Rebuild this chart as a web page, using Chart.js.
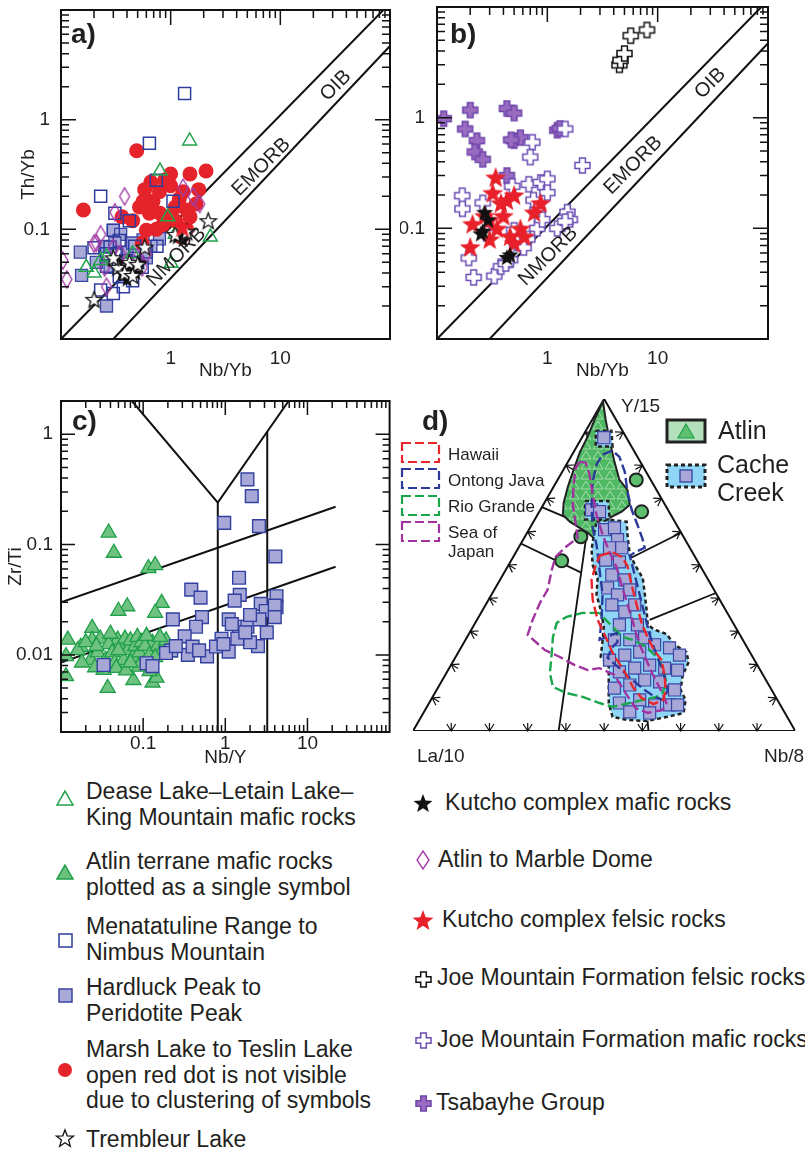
<!DOCTYPE html>
<html lang="en">
<head>
<meta charset="utf-8">
<title>Th/Yb, Zr/Ti and La/10-Y/15-Nb/8 diagrams</title>
<script src="https://cdn.jsdelivr.net/npm/chart.js@4.4.1/dist/chart.umd.min.js"></script>
<style>
  html, body { margin: 0; padding: 0; background: #fff; }
  body { position: relative; width: 805px; height: 1154px; overflow: hidden;
         font-family: "Liberation Sans", Arial, sans-serif; color: #231f20; }
  canvas { position: absolute; }
  .key { position: absolute; font-size: 23px; line-height: 25.5px; white-space: nowrap; }
</style>
</head>
<body>
<canvas id="chartA" width="400" height="380" style="left:0;top:0"></canvas>
<canvas id="chartB" width="405" height="380" style="left:400px;top:0"></canvas>
<canvas id="chartC" width="400" height="390" style="left:0;top:380px"></canvas>
<canvas id="chartD" width="405" height="390" style="left:400px;top:380px"></canvas>
<script>
// ---------- panel a: Th/Yb vs Nb/Yb ----------
const deaseNbYb = [1.49, 0.80, 0.94, 2.30, 1.01, 0.23, 0.20, 0.26, 0.17, 1.10, 0.45];
const deaseThYb = [0.64, 0.34, 0.13, 0.085, 0.049, 0.052, 0.040, 0.056, 0.045, 0.090, 0.060];
const menaNbYb = [1.34, 0.64, 0.23, 0.74, 1.05, 0.42, 0.31, 0.30, 0.34, 0.28, 0.32, 0.39, 0.26, 0.34, 0.45, 0.37, 0.23, 0.30, 0.50, 0.60, 0.75, 0.47, 0.55, 0.26, 0.20];
const menaThYb = [1.73, 0.61, 0.20, 0.28, 0.18, 0.12, 0.14, 0.098, 0.079, 0.069, 0.060, 0.052, 0.046, 0.037, 0.034, 0.030, 0.028, 0.026, 0.050, 0.062, 0.070, 0.070, 0.045, 0.060, 0.068];
const hardNbYb = [0.15, 0.154, 0.26, 0.30, 0.21, 0.79, 0.56, 0.35, 0.40, 0.25, 0.66, 0.45, 0.31, 0.28, 0.60, 0.38];
const hardThYb = [0.062, 0.038, 0.020, 0.098, 0.050, 0.082, 0.080, 0.090, 0.062, 0.070, 0.070, 0.075, 0.075, 0.045, 0.055, 0.045];
const marshNbYb = [0.49, 0.16, 2.10, 1.50, 1.00, 1.80, 0.58, 0.56, 0.69, 0.79, 1.00, 1.20, 1.40, 0.96, 0.64, 0.52, 0.36, 0.74, 1.10, 1.50, 1.70, 1.10, 0.80, 0.60, 1.40, 1.30, 0.88, 0.66, 0.45, 0.85, 1.25, 0.55];
const marshThYb = [0.52, 0.15, 0.34, 0.32, 0.32, 0.23, 0.23, 0.18, 0.18, 0.22, 0.25, 0.19, 0.15, 0.13, 0.14, 0.16, 0.13, 0.10, 0.12, 0.13, 0.17, 0.16, 0.14, 0.098, 0.10, 0.22, 0.28, 0.27, 0.12, 0.11, 0.085, 0.075];
const marbleNbYb = [1.84, 1.30, 0.38, 0.31, 0.104, 0.113, 0.21, 0.26, 0.23, 0.20, 1.60, 0.40, 0.50, 0.45, 0.60, 0.35, 0.55, 0.30, 0.25];
const marbleThYb = [0.17, 0.24, 0.20, 0.143, 0.052, 0.035, 0.075, 0.030, 0.090, 0.074, 0.20, 0.050, 0.055, 0.045, 0.060, 0.060, 0.045, 0.068, 0.045];
const trembNbYb = [0.20, 2.20, 0.58, 0.33, 0.42, 0.38, 0.50, 0.30, 0.45, 1.10, 1.40];
const trembThYb = [0.023, 0.12, 0.069, 0.045, 0.050, 0.040, 0.048, 0.055, 0.038, 0.090, 0.095];
const kutMafANbYb = [0.36, 0.42, 0.48, 0.40, 1.15, 1.30, 1.25, 0.34, 0.52];
const kutMafAThYb = [0.040, 0.044, 0.040, 0.035, 0.085, 0.080, 0.092, 0.050, 0.050];
const kutFelANbYb = [1.28];
const kutFelAThYb = [0.105];

// ---------- panel b: Th/Yb vs Nb/Yb ----------
const joeFelNbYb = [4.5, 4.6, 5.0, 5.7, 8.0];
const joeFelThYb = [3.0, 3.3, 3.8, 5.5, 6.2];
const tsabNbYb = [0.115, 0.20, 0.18, 0.23, 0.22, 0.26, 0.43, 0.50, 0.50, 0.57, 1.23, 0.43, 0.47, 1.30];
const tsabThYb = [0.98, 1.17, 0.79, 0.62, 0.49, 0.42, 1.21, 1.10, 0.62, 0.66, 0.77, 0.30, 0.63, 0.80];
const joeMafNbYb = [2.08, 0.73, 0.70, 1.45, 0.169, 0.17, 0.194, 0.215, 0.33, 0.38, 0.46, 0.68, 0.87, 1.00, 1.00, 0.75, 0.81, 0.81, 1.23, 1.52, 1.60, 0.66, 0.50, 0.48, 0.26, 0.28, 0.53, 0.61, 0.42, 1.45, 0.90];
const joeMafThYb = [0.37, 0.60, 0.44, 0.79, 0.197, 0.15, 0.054, 0.036, 0.037, 0.045, 0.052, 0.25, 0.26, 0.28, 0.21, 0.18, 0.144, 0.10, 0.10, 0.14, 0.12, 0.08, 0.096, 0.24, 0.17, 0.09, 0.074, 0.067, 0.048, 0.115, 0.12];
const kutFelNbYb = [0.34, 0.32, 0.43, 0.50, 0.38, 0.87, 0.76, 0.40, 0.21, 0.20, 0.30, 0.35, 0.46, 0.50, 0.57, 0.27, 0.30, 0.62];
const kutFelThYb = [0.29, 0.21, 0.18, 0.20, 0.17, 0.17, 0.14, 0.13, 0.11, 0.068, 0.08, 0.10, 0.085, 0.074, 0.10, 0.13, 0.12, 0.085];
const kutMafNbYb = [0.27, 0.29, 0.26, 0.25, 0.46, 0.43];
const kutMafThYb = [0.14, 0.12, 0.095, 0.09, 0.058, 0.055];

// MORB–OIB array boundaries (a and b)
const arrayUpperNb = [0.1, 87];
const arrayUpperTh = [0.01, 10];
const arrayLowerNb = [0.3, 100];
const arrayLowerTh = [0.01, 4.7];

// ---------- panel c: Zr/Ti vs Nb/Y ----------
const atlinNbY = [0.038, 0.044, 0.116, 0.14, 0.064, 0.05, 0.168, 0.14, 0.024, 0.0115, 0.0115, 0.037, 0.076, 0.13, 0.145,
  0.0121, 0.0174, 0.024, 0.049, 0.13, 0.023, 0.033, 0.016, 0.02, 0.028, 0.03, 0.035, 0.038, 0.042, 0.045,
  0.055, 0.058, 0.06, 0.065, 0.07, 0.075, 0.08, 0.085, 0.09, 0.095, 0.10, 0.105, 0.11, 0.12, 0.15,
  0.17, 0.19, 0.21, 0.018, 0.026, 0.047, 0.062, 0.088, 0.12, 0.05, 0.07, 0.14, 0.027, 0.16, 0.04];
const atlinZrTi = [0.128, 0.084, 0.061, 0.065, 0.0275, 0.025, 0.0295, 0.024, 0.0175, 0.0097, 0.0064, 0.0050, 0.0059, 0.0056, 0.0062,
  0.0137, 0.0118, 0.0137, 0.0137, 0.0128, 0.0090, 0.0073, 0.011, 0.013, 0.0105, 0.014, 0.009, 0.0125, 0.0105, 0.0085,
  0.012, 0.009, 0.014, 0.011, 0.0135, 0.0095, 0.012, 0.0145, 0.0105, 0.013, 0.0082, 0.012, 0.0148, 0.0100, 0.012,
  0.011, 0.0135, 0.0105, 0.0085, 0.0077, 0.0076, 0.0072, 0.0078, 0.0071, 0.011, 0.0085, 0.0095, 0.012, 0.0145, 0.0155];
const cacheNbY = [1.86, 2.1, 0.97, 2.57, 4.07, 1.47, 0.385, 0.50, 1.5, 1.3, 0.52, 0.23, 0.44, 1.1, 1.47, 1.86, 2.7, 4.2, 4.2, 3.1,
  3.2, 2.5, 2.0, 1.4, 0.9, 1.1, 0.6, 0.35, 0.32, 0.22, 0.11, 0.13, 0.033, 0.19, 0.40, 0.48, 0.77, 1.75, 4.0, 4.0,
  2.6, 2.0, 0.95, 1.2, 0.25];
const cacheZrTi = [0.39, 0.275, 0.157, 0.147, 0.078, 0.050, 0.039, 0.033, 0.035, 0.031, 0.022, 0.021, 0.018, 0.021, 0.018, 0.018, 0.029, 0.034, 0.027, 0.025,
  0.016, 0.012, 0.013, 0.014, 0.014, 0.0107, 0.0097, 0.010, 0.0147, 0.011, 0.0084, 0.0079, 0.0081, 0.0104, 0.0119, 0.011, 0.0119, 0.016, 0.028, 0.022,
  0.021, 0.023, 0.0125, 0.019, 0.012];
// field boundaries (Nb/Y, Zr/Ti)
const cUpperNbY = [0.01, 22];
const cUpperZrTi = [0.03, 0.22];
const cLowerNbY = [0.01, 22];
const cLowerZrTi = [0.0085, 0.063];
const cVeeNbY = [0.073, 0.81, 5.9];
const cVeeZrTi = [2, 0.24, 2];
const cLeftNbY = [0.81, 0.81];
const cLeftZrTi = [0.24, 0.002];
const cRightNbY = [3.24, 3.24];
const cRightZrTi = [1.05, 0.002];

// ---------- panel d: La/10 – Y/15 – Nb/8 (triangle plane, side = 1) ----------
const triCorners = [[0, 0], [1, 0], [0.5, 0.866]];
const edgeTicks = [0.1, 0.2, 0.3, 0.4, 0.5, 0.6, 0.7, 0.8, 0.9];
const dLines = [
  [[0.381, 0], [0.457, 0.533]],
  [[0.337, 0.584], [0.457, 0.533]],
  [[0.282, 0.489], [0.440, 0.413]],
  [[0.559, 0.446], [0.701, 0.517]],
  [[0.619, 0.290], [0.792, 0.360]],
  [[0.616, 0], [0.605, 0.12]]
];
const atlinField = [[0.497, 0.860], [0.475, 0.812], [0.457, 0.768], [0.436, 0.726], [0.420, 0.681], [0.405, 0.637], [0.394, 0.595],
  [0.392, 0.564], [0.410, 0.546], [0.436, 0.530], [0.457, 0.517], [0.478, 0.499], [0.493, 0.525], [0.514, 0.556], [0.546, 0.572],
  [0.567, 0.590], [0.561, 0.629], [0.540, 0.655], [0.527, 0.702], [0.514, 0.760], [0.504, 0.812]];
const atlinOutliers = [[0.584, 0.655], [0.598, 0.572], [0.439, 0.507], [0.389, 0.444]];
const cacheField = [[0.480, 0.546], [0.514, 0.551], [0.559, 0.546], [0.561, 0.512], [0.567, 0.460], [0.585, 0.426], [0.601, 0.399],
  [0.606, 0.360], [0.611, 0.316], [0.614, 0.277], [0.632, 0.264], [0.663, 0.253], [0.684, 0.225], [0.715, 0.206], [0.721, 0.180],
  [0.705, 0.144], [0.700, 0.107], [0.713, 0.081], [0.708, 0.047], [0.666, 0.037], [0.611, 0.026], [0.559, 0.029], [0.522, 0.037],
  [0.512, 0.073], [0.512, 0.112], [0.512, 0.172], [0.491, 0.193], [0.496, 0.238], [0.499, 0.272], [0.491, 0.316], [0.480, 0.355],
  [0.483, 0.399], [0.470, 0.433], [0.467, 0.473], [0.473, 0.512]];
const cacheTop = [[0.478, 0.783], [0.519, 0.783], [0.522, 0.742], [0.478, 0.742]];
const cacheMid = [[0.450, 0.600], [0.511, 0.600], [0.514, 0.552], [0.450, 0.552]];
const cacheSamples = [[0.499, 0.765], [0.467, 0.577], [0.488, 0.572], [0.501, 0.525], [0.527, 0.530], [0.535, 0.499], [0.514, 0.478],
  [0.546, 0.478], [0.504, 0.446], [0.540, 0.441], [0.520, 0.407], [0.554, 0.394], [0.509, 0.373], [0.535, 0.355], [0.567, 0.368],
  [0.520, 0.329], [0.554, 0.311], [0.580, 0.329], [0.540, 0.277], [0.587, 0.277], [0.527, 0.238], [0.567, 0.238], [0.606, 0.243],
  [0.514, 0.185], [0.554, 0.198], [0.593, 0.206], [0.632, 0.225], [0.671, 0.217], [0.697, 0.198], [0.540, 0.154], [0.580, 0.164],
  [0.619, 0.172], [0.658, 0.164], [0.692, 0.159], [0.527, 0.112], [0.567, 0.120], [0.606, 0.133], [0.645, 0.128], [0.684, 0.107],
  [0.540, 0.073], [0.593, 0.081], [0.632, 0.068], [0.671, 0.068], [0.567, 0.050], [0.619, 0.047], [0.692, 0.068]];
const hawaiiField = [[0.488, 0.457], [0.520, 0.467], [0.546, 0.454], [0.561, 0.431], [0.572, 0.381], [0.585, 0.329], [0.598, 0.282],
  [0.614, 0.243], [0.634, 0.206], [0.650, 0.185], [0.658, 0.146], [0.661, 0.107], [0.655, 0.081], [0.629, 0.070], [0.598, 0.086],
  [0.577, 0.112], [0.551, 0.159], [0.525, 0.198], [0.504, 0.245], [0.483, 0.290], [0.470, 0.342], [0.467, 0.394], [0.478, 0.433]];
const ontongField = [[0.496, 0.721], [0.522, 0.731], [0.540, 0.715], [0.554, 0.676], [0.561, 0.624], [0.572, 0.577], [0.587, 0.538],
  [0.601, 0.499], [0.606, 0.478], [0.582, 0.467], [0.567, 0.457], [0.580, 0.407], [0.593, 0.355], [0.606, 0.303], [0.619, 0.251],
  [0.637, 0.198], [0.655, 0.154], [0.666, 0.107], [0.655, 0.081], [0.632, 0.089], [0.606, 0.107], [0.574, 0.133], [0.540, 0.164],
  [0.509, 0.191], [0.520, 0.217], [0.535, 0.232], [0.533, 0.256], [0.488, 0.238], [0.493, 0.290], [0.496, 0.355], [0.488, 0.420],
  [0.480, 0.486], [0.470, 0.530], [0.467, 0.590], [0.470, 0.650], [0.480, 0.695]];
const rioGrandeField = [[0.488, 0.308], [0.444, 0.308], [0.402, 0.298], [0.376, 0.282], [0.366, 0.245], [0.363, 0.204], [0.358, 0.151],
  [0.366, 0.115], [0.402, 0.099], [0.444, 0.089], [0.488, 0.073], [0.522, 0.063], [0.567, 0.073], [0.601, 0.081], [0.637, 0.089],
  [0.653, 0.099], [0.663, 0.125], [0.653, 0.167], [0.637, 0.193], [0.611, 0.219], [0.574, 0.238], [0.548, 0.245], [0.522, 0.272],
  [0.496, 0.298]];
const seaOfJapanField = [[0.436, 0.702], [0.452, 0.700], [0.462, 0.668], [0.470, 0.616], [0.480, 0.564], [0.496, 0.512], [0.514, 0.467],
  [0.533, 0.426], [0.548, 0.373], [0.567, 0.311], [0.593, 0.225], [0.624, 0.154], [0.648, 0.107], [0.663, 0.073], [0.653, 0.055],
  [0.614, 0.047], [0.582, 0.060], [0.556, 0.099], [0.527, 0.146], [0.488, 0.164], [0.457, 0.159], [0.423, 0.172], [0.384, 0.193],
  [0.345, 0.211], [0.300, 0.251], [0.313, 0.290], [0.332, 0.334], [0.352, 0.368], [0.363, 0.420], [0.373, 0.454], [0.397, 0.478],
  [0.431, 0.504], [0.426, 0.538], [0.418, 0.590], [0.420, 0.642], [0.426, 0.687]];
const fieldNames = ['Hawaii', 'Ontong Java', 'Rio Grande', 'Sea of Japan'];

// ---------- helpers ----------
const INK = '#231f20';
const FONT = "'Liberation Sans', Arial, sans-serif";
const AXIS_PX = 19;
Chart.defaults.font.family = FONT;
Chart.defaults.color = INK;

const pts = (xs, ys) => xs.map((x, i) => ({x, y: ys[i]}));
const xy = list => list.map(([x, y]) => ({x, y}));
const ring = list => xy(list.concat([list[0]]));

function marker(w, h, draw) {
  const c = document.createElement('canvas');
  c.width = w;
  c.height = h;
  draw(c.getContext('2d'), w / 2, h / 2);
  return c;
}
function starPath(g, cx, cy, R, r) {
  g.beginPath();
  for (let i = 0; i < 10; i++) {
    const ang = -Math.PI / 2 + i * Math.PI / 5;
    const rr = i % 2 ? r : R;
    g.lineTo(cx + rr * Math.cos(ang), cy + rr * Math.sin(ang));
  }
  g.closePath();
}
function starMarker(R, fill, stroke) {
  const s = Math.ceil(2 * R + 4);
  return marker(s, s, (g, cx, cy) => {
    starPath(g, cx, cy + R * 0.1, R, R * 0.42);
    g.fillStyle = fill;
    g.fill();
    if (stroke) { g.lineWidth = 1.3; g.strokeStyle = stroke; g.stroke(); }
  });
}
function crossMarker(s, a, fill, stroke) {
  const n = Math.ceil(2 * s + 4);
  return marker(n, n, (g, cx, cy) => {
    g.beginPath();
    g.moveTo(cx - a, cy - s); g.lineTo(cx + a, cy - s); g.lineTo(cx + a, cy - a); g.lineTo(cx + s, cy - a);
    g.lineTo(cx + s, cy + a); g.lineTo(cx + a, cy + a); g.lineTo(cx + a, cy + s); g.lineTo(cx - a, cy + s);
    g.lineTo(cx - a, cy + a); g.lineTo(cx - s, cy + a); g.lineTo(cx - s, cy - a); g.lineTo(cx - a, cy - a);
    g.closePath();
    g.fillStyle = fill;
    g.fill();
    g.lineWidth = 1.5;
    g.strokeStyle = stroke;
    g.stroke();
  });
}
function diamondMarker(hw, hh, stroke) {
  return marker(Math.ceil(2 * hw + 4), Math.ceil(2 * hh + 4), (g, cx, cy) => {
    g.beginPath();
    g.moveTo(cx, cy - hh); g.lineTo(cx + hw, cy); g.lineTo(cx, cy + hh); g.lineTo(cx - hw, cy);
    g.closePath();
    g.lineWidth = 1.4;
    g.strokeStyle = stroke;
    g.stroke();
  });
}
function triMarker(side, fill, stroke) {
  const h = side * 0.866;
  return marker(Math.ceil(side + 4), Math.ceil(h + 4), (g, cx, cy) => {
    g.beginPath();
    g.moveTo(cx, cy - h / 2); g.lineTo(cx + side / 2, cy + h / 2); g.lineTo(cx - side / 2, cy + h / 2);
    g.closePath();
    if (fill) { g.fillStyle = fill; g.fill(); }
    g.lineWidth = 1.5;
    g.strokeStyle = stroke;
    g.stroke();
  });
}
function squareMarker(side, fill, stroke) {
  const n = Math.ceil(side + 4);
  return marker(n, n, (g, cx, cy) => {
    if (fill) { g.fillStyle = fill; g.fillRect(cx - side / 2, cy - side / 2, side, side); }
    g.lineWidth = 1.5;
    g.strokeStyle = stroke;
    g.strokeRect(cx - side / 2, cy - side / 2, side, side);
  });
}
function dotMarker(r, fill) {
  const n = Math.ceil(2 * r + 2);
  return marker(n, n, (g, cx, cy) => {
    g.beginPath(); g.arc(cx, cy, r, 0, Math.PI * 2); g.fillStyle = fill; g.fill();
  });
}

const openStar = starMarker(8.5, '#fff', '#111');
const blackStarA = starMarker(8, '#111');
const blackStarB = starMarker(9, '#111');
const redStar = starMarker(11, '#e8202a');
const diamondA = diamondMarker(5, 8.5, '#a43ea8');
const crossFel = crossMarker(7.5, 2.9, '#fff', '#111');
const crossMaf = crossMarker(7.5, 2.9, '#fff', '#6a4db4');
const crossTsab = crossMarker(7.5, 2.9, '#9a6cc1', '#6f45aa');

const clear = 'rgba(255,255,255,0)';
const openSquare = {pointStyle: 'rect', pointRadius: 8.5, pointBackgroundColor: clear, pointBorderColor: '#2e3c9e', pointBorderWidth: 1.5};
const lavSquare = {pointStyle: 'rect', pointRadius: 8.5, pointBackgroundColor: '#a9aad8', pointBorderColor: '#3a46a6', pointBorderWidth: 1.3};
const openTri = {pointStyle: 'triangle', pointRadius: 8, pointBackgroundColor: clear, pointBorderColor: '#22a34b', pointBorderWidth: 1.5};
const redDot = {pointStyle: 'circle', pointRadius: 7.5, pointBackgroundColor: '#e5232a', pointBorderColor: '#e5232a', pointBorderWidth: 0};
const img = c => ({pointStyle: c, pointRadius: 6});

const marks = (data, style) => Object.assign({data, showLine: false}, style);
const line = (data, width, extra) => Object.assign({data, showLine: true, pointRadius: 0, borderColor: '#111',
  borderWidth: width, fill: false, tension: 0}, extra || {});

function logAxis(min, max, labelled, o) {
  return {
    type: 'logarithmic', min, max, bounds: 'data',
    grid: {display: false, drawTicks: false},
    border: {display: false},
    ticks: {padding: o.pad, maxRotation: 0, autoSkip: false, font: {size: AXIS_PX}, color: INK, callback: v => String(v)},
    afterBuildTicks: s => { s.ticks = labelled.map(v => ({value: v})); },
    afterFit: s => {
      if (s.isHorizontal()) s.height = o.size; else s.width = o.size;
      s.paddingTop = s.paddingBottom = s.paddingLeft = s.paddingRight = 0;
    },
    title: o.title ? {display: true, text: o.title, color: INK, font: {size: AXIS_PX}, padding: o.titlePad} : {display: false}
  };
}

// frame + inward log ticks
const frameTicks = {
  id: 'frameTicks',
  afterDatasetsDraw(chart, args, opts) {
    const {ctx, chartArea: a, scales: {x, y}} = chart;
    const each = (s, cb) => {
      for (let e = Math.floor(Math.log10(s.min)); e <= Math.ceil(Math.log10(s.max)); e++) {
        for (let m = 1; m < 10; m++) {
          const v = m * Math.pow(10, e);
          if (v <= s.min * 1.001 || v >= s.max * 0.999) continue;
          cb(s.getPixelForValue(v), m === 1 ? opts.major : opts.minor);
        }
      }
    };
    ctx.save();
    ctx.strokeStyle = '#111';
    ctx.lineWidth = 1.5;
    ctx.beginPath();
    each(y, (p, len) => {
      if (opts.sides.includes('l')) { ctx.moveTo(a.left, p); ctx.lineTo(a.left + len, p); }
      if (opts.sides.includes('r')) { ctx.moveTo(a.right, p); ctx.lineTo(a.right - len, p); }
    });
    each(x, (p, len) => {
      if (opts.sides.includes('t')) { ctx.moveTo(p, a.top); ctx.lineTo(p, a.top + len); }
      if (opts.sides.includes('b')) { ctx.moveTo(p, a.bottom); ctx.lineTo(p, a.bottom - len); }
    });
    ctx.stroke();
    ctx.lineWidth = 2;
    ctx.strokeRect(a.left, a.top, a.right - a.left, a.bottom - a.top);
    ctx.restore();
  }
};

// text annotations: data coords (x, y) or canvas pixels (px, py)
const notes = {
  id: 'notes',
  afterDatasetsDraw(chart, args, opts) {
    const {ctx, scales} = chart;
    for (const n of opts.items || []) {
      const px = n.px != null ? n.px : scales.x.getPixelForValue(n.x);
      const py = n.py != null ? n.py : scales.y.getPixelForValue(n.y);
      ctx.save();
      ctx.fillStyle = INK;
      ctx.font = (n.bold ? 'bold ' : '') + (n.size || 20) + 'px ' + FONT;
      ctx.textAlign = n.align || 'center';
      ctx.textBaseline = n.baseline || 'middle';
      ctx.translate(px, py);
      ctx.rotate(n.rot || 0);
      ctx.fillText(n.text, 0, 0);
      ctx.restore();
    }
  }
};

const baseOptions = (padding, x, y, items, sides, major, minor) => ({
  responsive: false, animation: false, devicePixelRatio: 1, events: [],
  layout: {padding},
  plugins: {legend: {display: false}, tooltip: {enabled: false},
    frameTicks: {sides, major, minor}, notes: {items}},
  scales: {x, y}
});

const diag = -Math.PI / 4;

// ---------- chart a ----------
new Chart(document.getElementById('chartA'), {
  type: 'scatter',
  data: {datasets: [
    marks(pts(kutFelANbYb, kutFelAThYb), img(redStar)),
    marks(pts(trembNbYb, trembThYb), img(openStar)),
    marks(pts(kutMafANbYb, kutMafAThYb), img(blackStarA)),
    marks(pts(deaseNbYb, deaseThYb), openTri),
    marks(pts(marbleNbYb, marbleThYb), img(diamondA)),
    marks(pts(menaNbYb, menaThYb), openSquare),
    marks(pts(marshNbYb, marshThYb), redDot),
    marks(pts(hardNbYb, hardThYb), lavSquare),
    line(pts(arrayUpperNb, arrayUpperTh), 2),
    line(pts(arrayLowerNb, arrayLowerTh), 2)
  ]},
  options: baseOptions({top: 7, right: 8, left: 0, bottom: 0},
    logAxis(0.1, 100, [1, 10], {size: 41, pad: 8, title: 'Nb/Yb', titlePad: {top: 0, bottom: -2}}),
    logAxis(0.01, 10, [0.1, 1], {size: 61, pad: 11, title: 'Th/Yb', titlePad: {top: 17, bottom: 0}}),
    [{text: 'a)', px: 71, py: 43, bold: true, size: 28, align: 'left', baseline: 'alphabetic'},
     {text: 'OIB', x: 32, y: 2.04, rot: diag},
     {text: 'EMORB', x: 6.7, y: 0.37, rot: diag},
     {text: 'NMORB', x: 1.13, y: 0.056, rot: diag}],
    'ltr', 15, 8),
  plugins: [frameTicks, notes]
});

// ---------- chart b ----------
new Chart(document.getElementById('chartB'), {
  type: 'scatter',
  data: {datasets: [
    marks(pts(kutMafNbYb, kutMafThYb), img(blackStarB)),
    marks(pts(kutFelNbYb, kutFelThYb), img(redStar)),
    marks(pts(joeMafNbYb, joeMafThYb), img(crossMaf)),
    marks(pts(tsabNbYb, tsabThYb), img(crossTsab)),
    marks(pts(joeFelNbYb, joeFelThYb), img(crossFel)),
    line(pts(arrayUpperNb, arrayUpperTh), 2),
    line(pts(arrayLowerNb, arrayLowerTh), 2)
  ]},
  options: baseOptions({top: 7, right: 37, left: 0, bottom: 0},
    logAxis(0.1, 100, [1, 10], {size: 41, pad: 8, title: 'Nb/Yb', titlePad: {top: 0, bottom: -2}}),
    logAxis(0.01, 10, [0.1, 1], {size: 37, pad: 12}),
    [{text: 'b)', px: 50, py: 43, bold: true, size: 28, align: 'left', baseline: 'alphabetic'},
     {text: 'OIB', x: 30, y: 2.04, rot: diag},
     {text: 'EMORB', x: 6.0, y: 0.37, rot: diag},
     {text: 'NMORB', x: 1.02, y: 0.056, rot: diag}],
    'ltr', 15, 8),
  plugins: [frameTicks, notes]
});

// ---------- chart c ----------
new Chart(document.getElementById('chartC'), {
  type: 'scatter',
  data: {datasets: [
    marks(pts(cacheNbY, cacheZrTi), {pointStyle: 'rect', pointRadius: 9, pointBackgroundColor: '#a7a8d7', pointBorderColor: '#3340a0', pointBorderWidth: 1.4}),
    marks(pts(atlinNbY, atlinZrTi), {pointStyle: 'triangle', pointRadius: 8.7, pointBackgroundColor: '#6fc27f', pointBorderColor: '#1f9f4a', pointBorderWidth: 1.3}),
    line(pts(cUpperNbY, cUpperZrTi), 2),
    line(pts(cLowerNbY, cLowerZrTi), 2),
    line(pts(cVeeNbY, cVeeZrTi), 2),
    line(pts(cLeftNbY, cLeftZrTi), 2),
    line(pts(cRightNbY, cRightZrTi), 2)
  ]},
  options: baseOptions({top: 21, right: 8, left: 0, bottom: 0},
    logAxis(0.01, 100, [0.1, 1, 10], {size: 38, pad: 0, title: 'Nb/Y', titlePad: {top: 0, bottom: 1}}),
    logAxis(0.002, 2, [0.01, 0.1, 1], {size: 61, pad: 8, title: 'Zr/Ti', titlePad: {top: 4, bottom: 0}}),
    [{text: 'c)', px: 72, py: 50, bold: true, size: 28, align: 'left', baseline: 'alphabetic'}],
    'lrtb', 14, 7),
  plugins: [frameTicks, notes]
});

// ---------- chart d (ternary) ----------
const tile = document.createElement('canvas');
tile.width = 12; tile.height = 10;
(() => {
  const g = tile.getContext('2d');
  g.fillStyle = '#4fb862';
  g.fillRect(0, 0, 12, 10);
  g.strokeStyle = '#a6dfae';
  g.lineWidth = 1;
  g.beginPath(); g.moveTo(6, 1); g.lineTo(11, 9); g.lineTo(1, 9); g.closePath(); g.stroke();
})();
const atlinPattern = tile.getContext('2d').createPattern(tile, 'repeat');

const ternaryTicks = {
  id: 'ternaryTicks',
  beforeDatasetsDraw(chart) {
    const {ctx, scales: {x, y}} = chart;
    const px = ([a, b]) => [x.getPixelForValue(a), y.getPixelForValue(b)];
    const c = px([0.5, 0.2887]);
    ctx.save();
    ctx.strokeStyle = '#111';
    ctx.lineWidth = 1.2;
    ctx.beginPath();
    for (let i = 0; i < 3; i++) {
      const p1 = px(triCorners[i]), p2 = px(triCorners[(i + 1) % 3]);
      const len = Math.hypot(p2[0] - p1[0], p2[1] - p1[1]);
      const ex = (p2[0] - p1[0]) / len, ey = (p2[1] - p1[1]) / len;
      for (const f of edgeTicks) {
        const bx = p1[0] + (p2[0] - p1[0]) * f, by = p1[1] + (p2[1] - p1[1]) * f;
        let nx = -ey, ny = ex;
        if ((c[0] - bx) * nx + (c[1] - by) * ny < 0) { nx = -nx; ny = -ny; }
        ctx.moveTo(bx, by); ctx.lineTo(bx + nx * 8, by + ny * 8);
        ctx.moveTo(bx + nx * 7 + ex * 4.5, by + ny * 7 + ey * 4.5);
        ctx.lineTo(bx, by);
        ctx.lineTo(bx + nx * 7 - ex * 4.5, by + ny * 7 - ey * 4.5);
      }
    }
    ctx.stroke();
    ctx.restore();
  }
};

const fieldColors = ['#e8262b', '#2c3a9c', '#1aa64a', '#a0339f'];
const ternaryKey = {
  id: 'ternaryKey',
  afterDraw(chart) {
    const ctx = chart.ctx;
    const boxTops = [63, 89, 116, 142];
    const textYs = [[75], [101], [127], [153, 172]];
    ctx.save();
    fieldNames.forEach((name, i) => {
      ctx.setLineDash([9, 4]);
      ctx.lineWidth = 2.2;
      ctx.strokeStyle = fieldColors[i];
      ctx.strokeRect(2, boxTops[i], 37, 19);
      ctx.setLineDash([]);
      ctx.fillStyle = INK;
      ctx.font = '17px ' + FONT;
      ctx.textAlign = 'left';
      ctx.textBaseline = 'middle';
      const parts = i === 3 ? ['Sea of', 'Japan'] : [name];
      parts.forEach((t, j) => ctx.fillText(t, 48, textYs[i][j]));
    });
    // Atlin key
    ctx.fillStyle = '#b3e1bb';
    ctx.fillRect(267, 40, 38, 22);
    ctx.lineWidth = 3;
    ctx.strokeStyle = '#222';
    ctx.strokeRect(267, 40, 38, 22);
    ctx.beginPath(); ctx.moveTo(286, 44); ctx.lineTo(294, 58); ctx.lineTo(278, 58); ctx.closePath();
    ctx.fillStyle = '#5fc170'; ctx.fill(); ctx.lineWidth = 1.2; ctx.strokeStyle = '#1f9f4a'; ctx.stroke();
    // Cache Creek key
    ctx.fillStyle = '#8fd6f6';
    ctx.fillRect(267, 85, 38, 22);
    ctx.setLineDash([4, 3]);
    ctx.lineWidth = 3;
    ctx.strokeStyle = '#222';
    ctx.strokeRect(267, 85, 38, 22);
    ctx.setLineDash([]);
    ctx.fillStyle = '#a7a8d7'; ctx.fillRect(280, 90, 12, 12);
    ctx.lineWidth = 1.3; ctx.strokeStyle = '#3340a0'; ctx.strokeRect(280, 90, 12, 12);
    ctx.fillStyle = INK;
    ctx.font = '25px ' + FONT;
    ctx.textAlign = 'left';
    ctx.textBaseline = 'middle';
    ctx.fillText('Atlin', 318, 52);
    ctx.fillText('Cache', 317, 86);
    ctx.fillText('Creek', 317, 114);
    ctx.restore();
  }
};

const dashed = (field, color) => line(ring(field), 2.4, {borderColor: color, borderDash: [10, 4]});
const dDatasets = [
  dashed(hawaiiField, fieldColors[0]),
  dashed(seaOfJapanField, fieldColors[3]),
  dashed(ontongField, fieldColors[1]),
  dashed(rioGrandeField, fieldColors[2]),
  marks(xy(atlinOutliers), {pointStyle: 'circle', pointRadius: 6.5, pointBackgroundColor: '#5cbf6e', pointBorderColor: '#222', pointBorderWidth: 2}),
  marks(xy(cacheSamples), {pointStyle: 'rect', pointRadius: 8.5, pointBackgroundColor: '#a7a8d7', pointBorderColor: '#3a46a6', pointBorderWidth: 1.2}),
  line(ring(cacheTop), 2.5, {borderColor: '#222', borderDash: [4, 3], fill: 'shape', backgroundColor: '#8fd6f6'}),
  line(ring(cacheMid), 2.5, {borderColor: '#222', borderDash: [4, 3], fill: 'shape', backgroundColor: '#8fd6f6'}),
  line(ring(cacheField), 2.5, {borderColor: '#222', borderDash: [4, 3], fill: 'shape', backgroundColor: '#8fd6f6'}),
  line(ring(atlinField), 2, {borderColor: '#222', fill: 'shape', backgroundColor: atlinPattern})
].concat(dLines.map(l => line(xy(l), 1.8)), [line(ring(triCorners), 2)]);

new Chart(document.getElementById('chartD'), {
  type: 'scatter',
  data: {datasets: dDatasets},
  options: {
    responsive: false, animation: false, devicePixelRatio: 1, events: [],
    layout: {padding: {left: 13, right: 9, top: 19, bottom: 39}},
    plugins: {legend: {display: false}, tooltip: {enabled: false},
      notes: {items: [
        {text: 'd)', px: 22, py: 50, bold: true, size: 28, align: 'left', baseline: 'alphabetic'},
        {text: 'Y/15', px: 221, py: 27, size: 19, align: 'left'},
        {text: 'La/10', px: 17, py: 377, size: 19, align: 'left'},
        {text: 'Nb/8', px: 364, py: 377, size: 19, align: 'left'}
      ]}},
    scales: {
      x: {type: 'linear', min: 0, max: 1, display: false},
      y: {type: 'linear', min: 0, max: 0.866, display: false}
    }
  },
  plugins: [ternaryTicks, notes, ternaryKey]
});

// ---------- key below the panels ----------
const keyEntries = [
  {icon: triMarker(16, null, '#22a34b'), cx: 65, cy: 798, left: 86, top: 779, lines: ['Dease Lake–Letain Lake–', 'King Mountain mafic rocks']},
  {icon: triMarker(16, '#6cc27c', '#1f9f4a'), cx: 65, cy: 872, left: 86, top: 849, lines: ['Atlin terrane mafic rocks', 'plotted as a single symbol']},
  {icon: squareMarker(13, null, '#2e3c9e'), cx: 65, cy: 940, left: 86, top: 914, lines: ['Menatatuline Range to', 'Nimbus Mountain']},
  {icon: squareMarker(13, '#a9aad8', '#3a46a6'), cx: 65, cy: 995, left: 86, top: 975, lines: ['Hardluck Peak to', 'Peridotite Peak']},
  {icon: dotMarker(7, '#e5232a'), cx: 65, cy: 1070, left: 86, top: 1037, lines: ['Marsh Lake to Teslin Lake', 'open red dot is not visible', 'due to clustering of symbols']},
  {icon: starMarker(9, '#fff', '#111'), cx: 65, cy: 1138, left: 86, top: 1127, lines: ['Trembleur Lake']},
  {icon: starMarker(10, '#111'), cx: 423, cy: 803, left: 445, top: 790, lines: ['Kutcho complex mafic rocks']},
  {icon: diamondMarker(6, 9, '#a43ea8'), cx: 423, cy: 860, left: 438, top: 847, lines: ['Atlin to Marble Dome']},
  {icon: starMarker(11, '#e8202a'), cx: 423, cy: 920, left: 442, top: 907, lines: ['Kutcho complex felsic rocks']},
  {icon: crossMarker(7.5, 2.8, '#fff', '#111'), cx: 423, cy: 979, left: 437, top: 965, lines: ['Joe Mountain Formation felsic rocks']},
  {icon: crossMarker(7.5, 2.8, '#fff', '#6a4db4'), cx: 423, cy: 1040, left: 437, top: 1027, lines: ['Joe Mountain Formation mafic rocks']},
  {icon: crossMarker(7.5, 2.8, '#9a6cc1', '#6f45aa'), cx: 423, cy: 1103, left: 436, top: 1090, lines: ['Tsabayhe Group']}
];
keyEntries.forEach(k => {
  k.icon.style.left = (k.cx - k.icon.width / 2) + 'px';
  k.icon.style.top = (k.cy - k.icon.height / 2) + 'px';
  document.body.appendChild(k.icon);
  const d = document.createElement('div');
  d.className = 'key';
  d.style.left = k.left + 'px';
  d.style.top = k.top + 'px';
  k.lines.forEach((t, i) => {
    if (i) d.appendChild(document.createElement('br'));
    d.appendChild(document.createTextNode(t));
  });
  document.body.appendChild(d);
});
</script>
</body>
</html>
